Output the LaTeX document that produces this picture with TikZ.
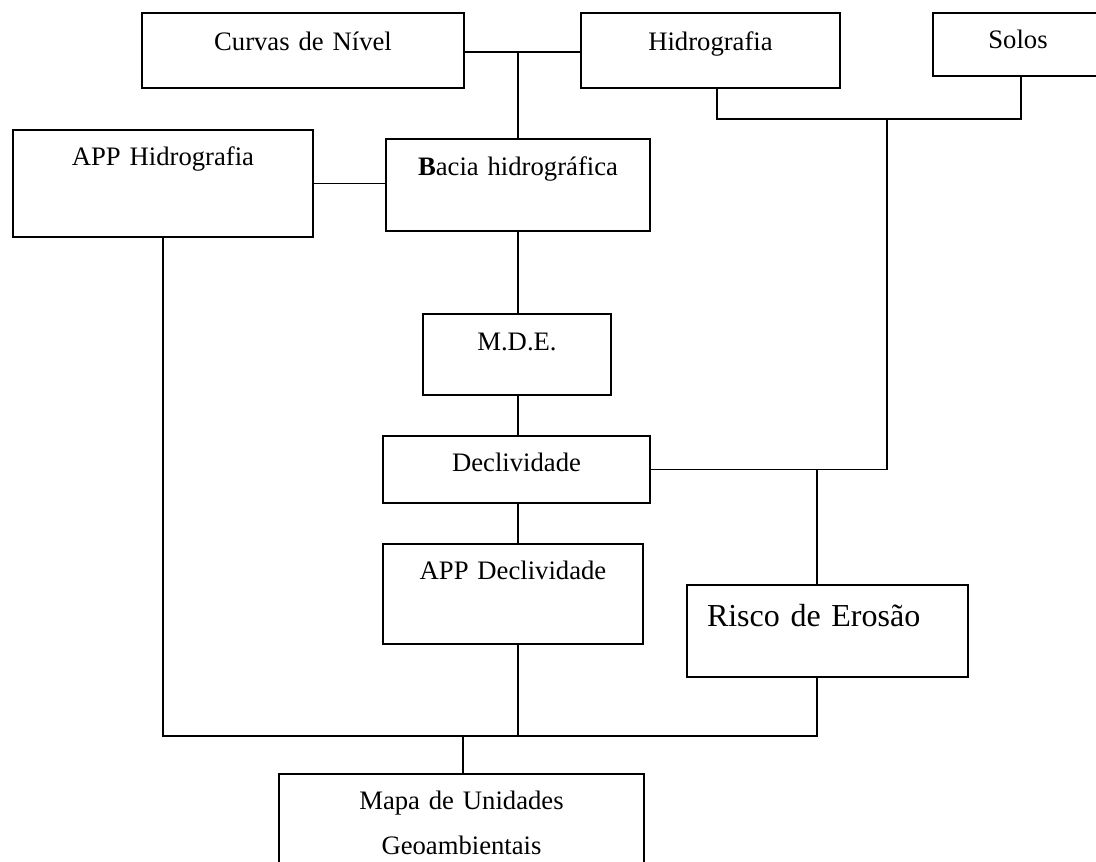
\documentclass[tikz,border=0pt]{standalone}
\usepackage{fontspec}
\setmainfont{Liberation Serif}
\usetikzlibrary{calc}

\begin{document}
\begin{tikzpicture}[x=0.75pt,y=0.75pt,yscale=-1,xscale=1,
  blk/.style={draw, line width=1.5pt, anchor=north west, inner sep=0pt, align=center, font=\fontsize{20}{33.75}\selectfont},
  conn/.style={line width=1.2pt}]
%set diagram left start at 0, and has height of 862
\clip (0,0) rectangle (1096,862);

% Boxes
\draw (141,12) node [blk, text width=241.5pt, text height=28.5pt, text depth=27.75pt] (curvas) {Curvas de Nível};
\draw (580,12) node [blk, text width=194.25pt, text height=28.5pt, text depth=27.75pt] (hidro) {Hidrografia};
\draw (932,12) node [blk, text width=127.5pt, text height=27pt, text depth=20.25pt] (solos) {Solos};
\draw (12,129) node [blk, text width=225pt, text height=27pt, text depth=53.25pt] (apph) {APP Hidrografia};
\draw (385,138) node [blk, text width=198pt, text height=27.75pt, text depth=41.25pt] (bacia) {{\bfseries B}acia hidrográfica};
\draw (422,313) node [blk, text width=141pt, text height=27.75pt, text depth=33pt] (mde) {M.D.E.};
\draw (382,435) node [blk, text width=200.25pt, text height=27pt, text depth=23.25pt] (decl) {Declividade};
\draw (382,543) node [blk, text width=195pt, text height=27pt, text depth=48pt] (appd) {APP Declividade};
\draw (686,584) node [blk, align=left, inner xsep=15pt, text width=180.75pt, text height=30.75pt, text depth=38.25pt, font=\fontsize{24}{28}\selectfont] (risco) {Risco de Erosão};
\draw (278,773) node [blk, text width=273.75pt, text height=26.25pt, text depth=56.25pt] (mapa) {Mapa de Unidades\\Geoambientais};

% Lines
\coordinate (spine) at (518,0);
\coordinate (jtop) at (518,52);
\coordinate (jsolo) at (887,119);
\coordinate (jrisco) at (817,469);
\coordinate (jmapa) at (463,736);
\draw [conn] (curvas.east |- jtop) -- (hidro.west |- jtop);
\draw [conn] (jtop) -- (spine |- bacia.north);
\draw [conn] (apph.east) -- (bacia.west |- apph.east);
\draw [conn] ($(hidro.south west)+(137,0)$) |- (jsolo) -| ($(solos.south west)+(89,0)$);
\draw [conn] (jsolo) |- (decl.east);
\draw [conn] (spine |- bacia.south) -- (spine |- mde.north);
\draw [conn] (spine |- mde.south) -- (spine |- decl.north);
\draw [conn] (spine |- decl.south) -- (spine |- appd.north);
\draw [conn] (jrisco) -- (jrisco |- risco.north);
\draw [conn] (apph.south) |- (jmapa) -| (jrisco |- risco.south);
\draw [conn] (spine |- appd.south) -- (spine |- jmapa);
\draw [conn] (jmapa) -- (jmapa |- mapa.north);

\end{tikzpicture}
\end{document}
